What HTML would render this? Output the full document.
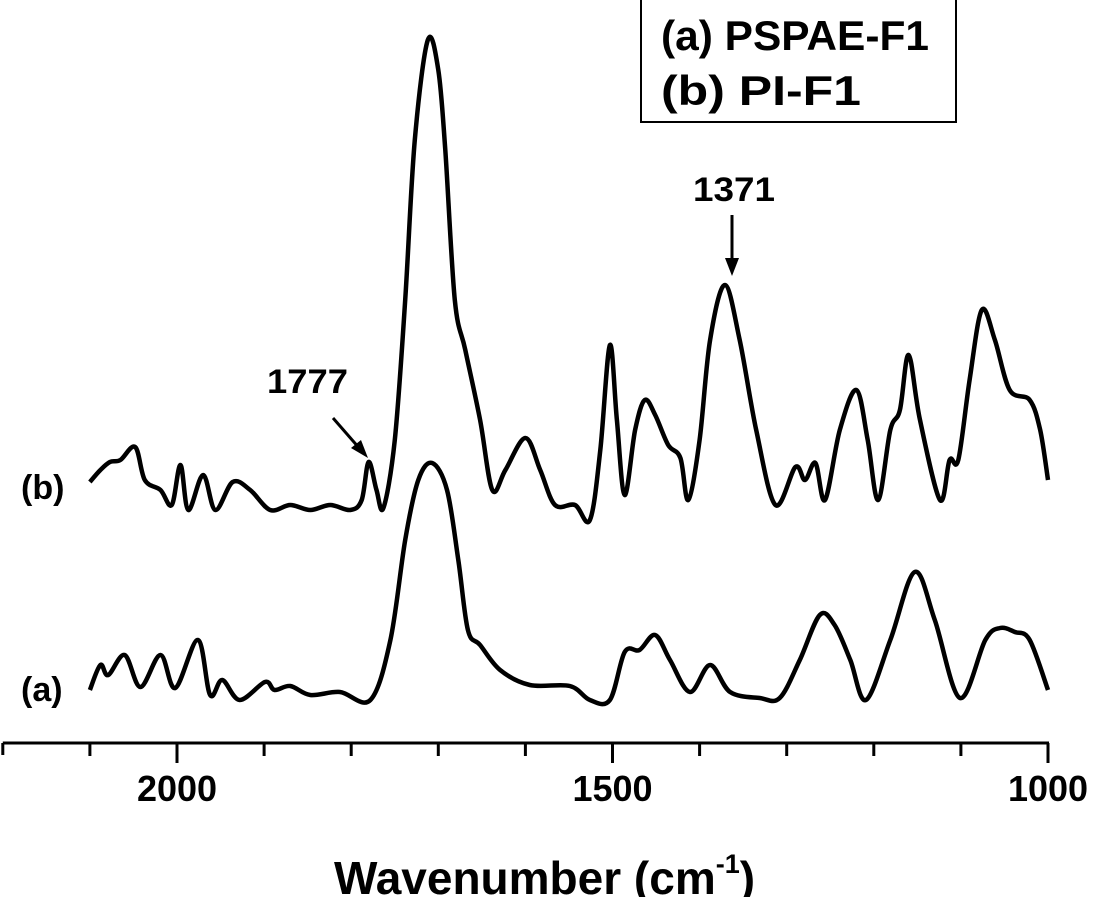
<!DOCTYPE html>
<html><head><meta charset="utf-8"><style>
html,body{margin:0;padding:0;background:#fff;}
svg{display:block;font-family:"Liberation Sans",Arial,sans-serif;font-weight:bold;}
</style></head><body>
<svg id="chart" width="1100" height="897" viewBox="0 0 1100 897" xmlns="http://www.w3.org/2000/svg">
<g id="axis"></g>
<g id="series"></g>
<rect x="641" y="-2" width="315" height="124" fill="none" stroke="#000" stroke-width="2"/>
<text x="661" y="50" font-size="42" textLength="268" lengthAdjust="spacingAndGlyphs">(a) PSPAE-F1</text>
<text x="661" y="105" font-size="42" textLength="200" lengthAdjust="spacingAndGlyphs">(b) PI-F1</text>
<text x="21" y="499" font-size="34">(b)</text>
<text x="21" y="701" font-size="34">(a)</text>
<text x="267" y="393" font-size="34" textLength="81" lengthAdjust="spacingAndGlyphs">1777</text>
<line x1="333" y1="418" x2="360" y2="449" stroke="#000" stroke-width="3"/>
<polygon points="368,458 351,448 361,440" fill="#000"/>
<text x="693" y="201" font-size="34" textLength="82" lengthAdjust="spacingAndGlyphs">1371</text>
<line x1="732" y1="215" x2="732" y2="262" stroke="#000" stroke-width="3"/>
<polygon points="725,258 739,258 732,276" fill="#000"/>
<text x="334" y="894" font-size="46">Wavenumber (cm<tspan font-size="27" dy="-21">-1</tspan><tspan dy="21">)</tspan></text>
</svg>
<script>
const tickValues = [2200,2100,2000,1900,1800,1700,1600,1500,1400,1300,1200,1100,1000];
const tickLabels = ["2000","1500","1000"];
const labelValues = [2000,1500,1000];
const wnB = [2100,2088,2077,2065,2048,2037,2019,2006,1996,1987,1970,1956,1936,1916,1893,1870,1847,1824,1801,1788,1780,1771,1763,1750,1738,1727,1712,1700,1692,1681,1669,1652,1638,1623,1600,1583,1566,1543,1526,1514,1503,1495,1486,1474,1463,1451,1436,1422,1413,1400,1388,1371,1354,1335,1313,1290,1279,1267,1256,1239,1220,1207,1195,1181,1170,1160,1147,1124,1113,1103,1090,1076,1061,1044,1021,1009,1000];
const intB = [263,275,283,285,298,265,255,240,280,235,270,235,263,255,235,240,235,240,235,245,283,255,237,305,445,605,705,675,595,445,395,325,255,275,307,275,240,240,225,295,400,325,250,315,345,330,300,287,245,305,405,460,405,315,240,278,265,282,245,315,355,305,245,315,335,390,325,245,285,285,365,435,405,355,345,315,265];
const wnA = [2100,2088,2079,2060,2042,2019,2002,1976,1962,1948,1928,1899,1888,1870,1847,1813,1778,1755,1738,1723,1707,1690,1677,1666,1652,1629,1595,1549,1526,1503,1486,1469,1451,1434,1411,1388,1365,1331,1308,1285,1262,1245,1227,1209,1181,1153,1130,1101,1072,1055,1038,1021,1000];
const intA = [55,80,70,90,58,90,57,105,50,65,45,63,55,59,50,53,45,105,205,265,282,255,185,115,100,75,60,59,45,45,93,95,110,85,53,80,53,47,47,85,130,120,85,45,105,173,125,47,105,117,113,105,55];

const NS='http://www.w3.org/2000/svg';
const xS = w => 1048 - (w-1000)*0.871;
const yS = v => 745 - v;
const axis = document.getElementById('axis');
const ser = document.getElementById('series');
function mk(tag, attrs, parent){const e=document.createElementNS(NS,tag);for(const k in attrs)e.setAttribute(k,attrs[k]);parent.appendChild(e);return e;}
const base = mk('line',{x1:xS(2200),x2:xS(1000)+1,y1:743,y2:743,stroke:'#000','stroke-width':3},axis);


tickValues.forEach(t=>{
  const major = labelValues.includes(t) || t===2200;
  const l = mk('line',{x1:xS(t),x2:xS(t),y1:743,y2:major?(t===2200?755:763):756,stroke:'#000','stroke-width':3},axis);
  
  
});
labelValues.forEach((v,i)=>{
  const tx = mk('text',{x:xS(v),y:801,'text-anchor':'middle','font-size':36},axis);
  tx.textContent = tickLabels[i];
  
  
});
function pathFor(wn, it){
  const p = wn.map((w,i)=>[xS(w), yS(it[i])]);
  let d = 'M'+p[0][0].toFixed(1)+','+p[0][1].toFixed(1);
  for(let i=0;i<p.length-1;i++){
    const p0=p[Math.max(0,i-1)],p1=p[i],p2=p[i+1],p3=p[Math.min(p.length-1,i+2)];
    const c1=[p1[0]+(p2[0]-p0[0])/6,p1[1]+(p2[1]-p0[1])/6];
    const c2=[p2[0]-(p3[0]-p1[0])/6,p2[1]-(p3[1]-p1[1])/6];
    d+=` C${c1[0].toFixed(1)},${c1[1].toFixed(1)} ${c2[0].toFixed(1)},${c2[1].toFixed(1)} ${p2[0].toFixed(1)},${p2[1].toFixed(1)}`;
  }
  return d;
}
const pb = mk('path',{d:pathFor(wnB,intB),fill:'none',stroke:'#000','stroke-width':4.5,'stroke-linejoin':'round'},ser);


const pa = mk('path',{d:pathFor(wnA,intA),fill:'none',stroke:'#000','stroke-width':4.5,'stroke-linejoin':'round'},ser);


</script>
</body></html>
